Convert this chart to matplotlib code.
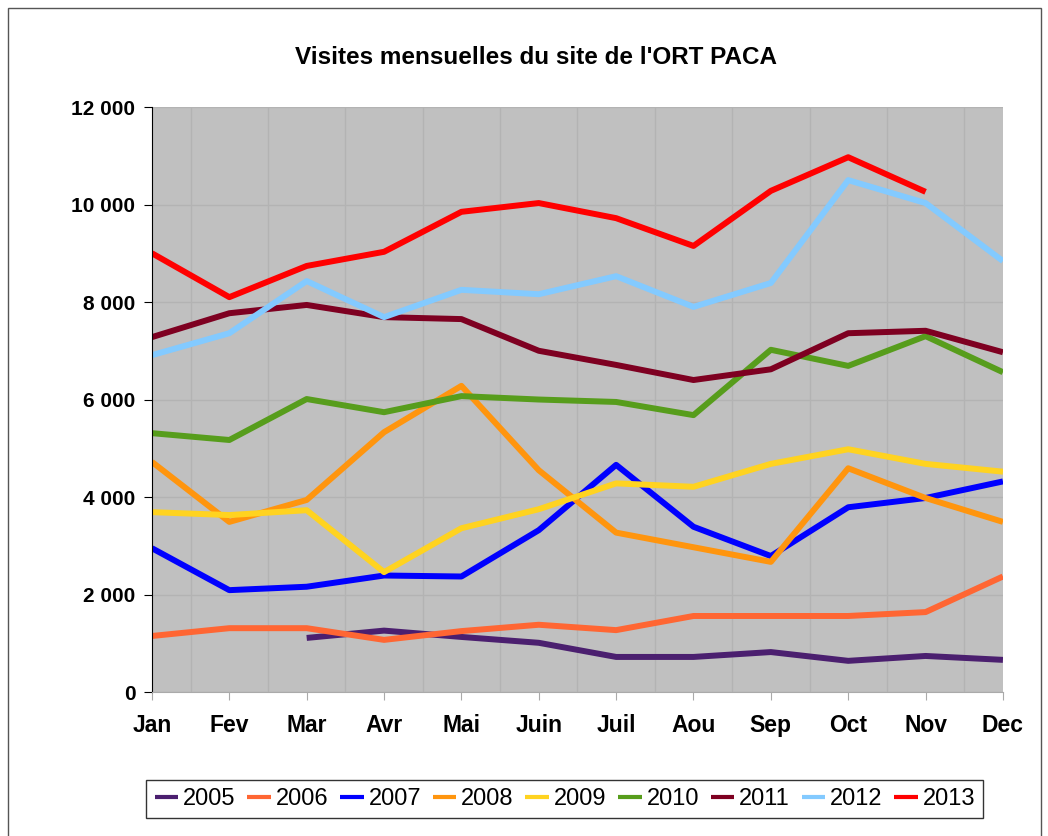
import matplotlib.pyplot as plt
import matplotlib.ticker as ticker
from matplotlib.patches import Rectangle

plt.rcParams['font.family'] = ['Liberation Sans', 'DejaVu Sans']

mois = ['Jan', 'Fev', 'Mar', 'Avr', 'Mai', 'Juin', 'Juil', 'Aou', 'Sep', 'Oct', 'Nov', 'Dec']

# None = pas de donnees
v2005 = [None, None, 1110, 1260, 1130, 1010, 720, 720, 820, 640, 740, 660]
v2006 = [1150, 1310, 1310, 1070, 1250, 1380, 1270, 1560, 1560, 1560, 1640, 2370]
v2007 = [2950, 2090, 2160, 2390, 2370, 3320, 4660, 3390, 2790, 3790, 3980, 4320]
v2008 = [4720, 3490, 3940, 5330, 6280, 4550, 3270, 2970, 2670, 4590, 3980, 3490]
v2009 = [3690, 3630, 3730, 2460, 3360, 3750, 4280, 4210, 4680, 4980, 4680, 4520]
v2010 = [5310, 5170, 6010, 5740, 6070, 6000, 5950, 5680, 7020, 6690, 7300, 6560]
v2011 = [7280, 7770, 7940, 7690, 7650, 7000, 6710, 6400, 6620, 7360, 7410, 6970]
v2012 = [6910, 7360, 8430, 7690, 8250, 8160, 8530, 7900, 8390, 10500, 10030, 8840]
v2013 = [9000, 8100, 8740, 9030, 9850, 10030, 9720, 9150, 10280, 10970, 10260, None]

annees = ['2005', '2006', '2007', '2008', '2009', '2010', '2011', '2012', '2013']
series = [v2005, v2006, v2007, v2008, v2009, v2010, v2011, v2012, v2013]
couleurs = ['#4b1f6f', '#ff6633', '#0000ff', '#ff950e', '#ffd320',
            '#579d1c', '#7e0021', '#83caff', '#ff0000']

fig = plt.figure(figsize=(10.48, 8.36), dpi=100)
fig.patches.append(Rectangle((8 / 1048, -0.01), 1033 / 1048, 1.01 - 8 / 836,
                             transform=fig.transFigure, fill=False,
                             edgecolor='#555555', linewidth=1))
ax = fig.add_axes([0.145, 0.1722, 0.812, 0.6998])
ax.set_facecolor('#c0c0c0')

x = list(range(len(mois)))
for an, vals, c in zip(annees, series, couleurs):
    y = [float('nan') if v is None else v for v in vals]
    ax.plot(x, y, color=c, linewidth=4.3, label=an, solid_capstyle='butt')

ax.set_xlim(0, 11)
ax.set_ylim(0, 12000)
ax.set_xticks(x)
ax.set_xticklabels(mois, fontsize=16.5, fontweight='bold')
ax.set_xticks([i + 0.5 for i in range(11)], minor=True)
ax.set_yticks(range(0, 12001, 2000))
ax.yaxis.set_major_formatter(ticker.FuncFormatter(lambda v, p: f'{int(v):,}'.replace(',', ' ')))
for lab in ax.get_yticklabels():
    lab.set_fontsize(15)
    lab.set_fontweight('bold')

ax.grid(axis='y', which='major', color='#b3b3b3', linewidth=1)
ax.grid(axis='x', which='minor', color='#b3b3b3', linewidth=1)
ax.set_axisbelow(True)
ax.tick_params(axis='x', which='major', length=6, color='#aaaaaa', pad=10)
ax.tick_params(axis='x', which='minor', length=0)
ax.tick_params(axis='y', length=6, color='black', pad=6)
ax.spines['top'].set_visible(False)
ax.spines['right'].set_visible(False)
ax.spines['bottom'].set_color('#aaaaaa')
ax.spines['left'].set_color('black')

fig.text(0.511, 1 - 57 / 836, "Visites mensuelles du site de l'ORT PACA",
         ha='center', va='center', fontsize=17.5, fontweight='bold')

leg = fig.legend(loc='center', bbox_to_anchor=(0.539, 0.044), ncol=9,
                 fontsize=17, frameon=True, fancybox=False, handlelength=1.0,
                 handletextpad=0.2, columnspacing=0.5, borderpad=0.35)
leg.get_frame().set_edgecolor('black')
leg.get_frame().set_linewidth(1)
for h in leg.get_lines():
    h.set_linewidth(3)

fig.savefig('out.png', dpi=100)
